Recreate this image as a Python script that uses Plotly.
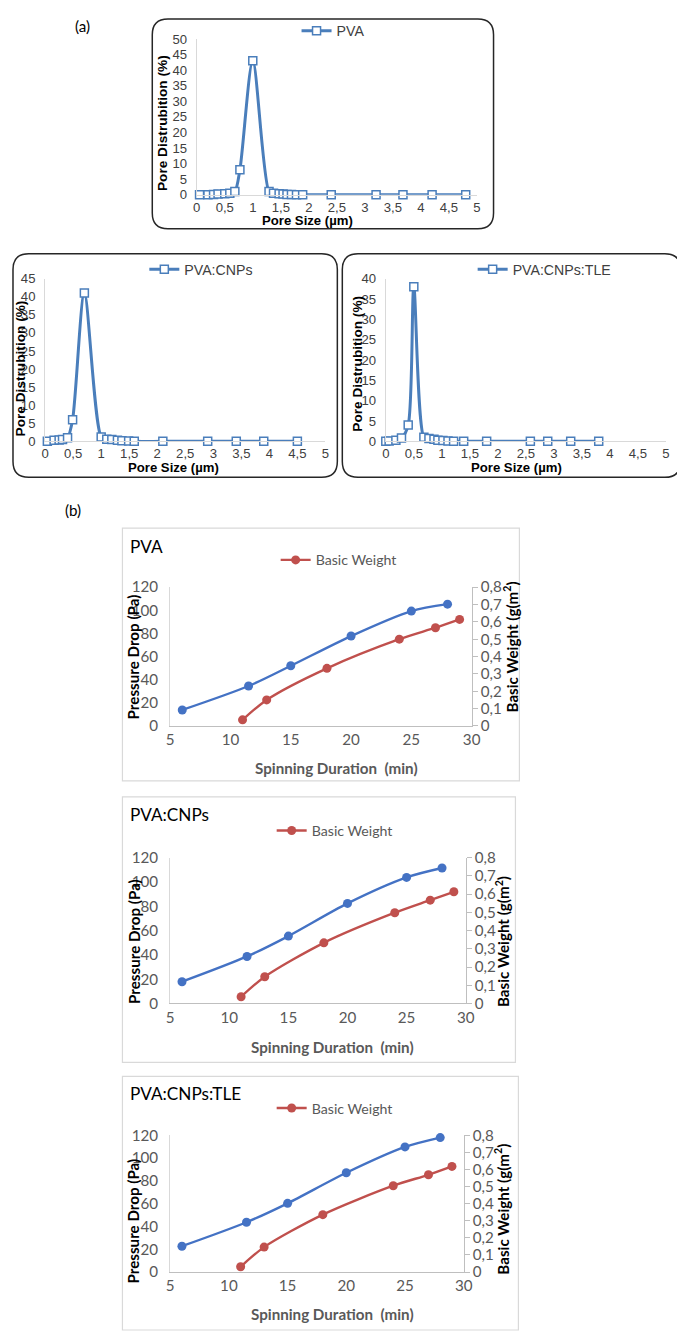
import plotly.graph_objects as go

# Page placement of the figure in the photographed window (measured): img = O + S * figure_px
OX, OY = 11.0, 17.0
SX, SY = 0.986, 0.988
W, H = 684, 1332
def px(x): return ((x - OX) / SX) / W
def py(y): return 1 - ((y - OY) / SY) / H
def fs(s): return s / SY

# ---------------- (a) pore size distribution data ----------------
pva_size = [0.05, 0.2, 0.3, 0.38, 0.5, 0.59, 0.68, 0.77, 1.0, 1.29, 1.37, 1.47, 1.54, 1.61, 1.69, 1.78, 1.89, 2.4, 3.2, 3.68, 4.2, 4.8]
pva_dist = [0, 0, 0.1, 0.2, 0.3, 0.5, 1, 8, 43, 1, 0.5, 0.3, 0.2, 0.1, 0.1, 0, 0, 0, 0, 0, 0, 0]

cnp_size = [0.04, 0.16, 0.25, 0.31, 0.4, 0.49, 0.7, 1.0, 1.1, 1.19, 1.29, 1.37, 1.49, 1.59, 2.1, 2.9, 3.41, 3.9, 4.5]
cnp_dist = [0, 0.3, 0.4, 0.5, 1, 6, 41, 1.2, 0.6, 0.5, 0.3, 0.2, 0.1, 0, 0, 0, 0, 0, 0]

tle_size = [0.0, 0.06, 0.18, 0.28, 0.4, 0.5, 0.68, 0.77, 0.86, 0.93, 1.02, 1.11, 1.21, 1.39, 1.8, 2.58, 2.89, 3.3, 3.8]
tle_dist = [0, 0.1, 0.3, 0.8, 4, 38, 1, 0.7, 0.5, 0.3, 0.2, 0.1, 0, 0, 0, 0, 0, 0, 0]

pore_ticks = [0, 0.5, 1, 1.5, 2, 2.5, 3, 3.5, 4, 4.5, 5]

# ---------------- (b) pressure drop / basic weight data ----------------
spin_pd = [6, 11.5, 15, 20, 25, 28]
pd_pva = [13.8, 34.5, 52, 77.7, 99.3, 105.3]
pd_cnp = [17.9, 38.7, 55.5, 82.4, 103.8, 111.5]
pd_tle = [22.7, 43.7, 60.3, 87.1, 109.8, 118]

spin_bw = [11, 13, 18, 24, 27, 29]
bw_pva = [0.035, 0.15, 0.332, 0.5, 0.566, 0.614]
bw_cnp = [0.037, 0.147, 0.333, 0.498, 0.567, 0.613]
bw_tle = [0.031, 0.146, 0.336, 0.505, 0.569, 0.618]

BLUE_A = "#4A7EBB"
BLUE_B = "#4472C4"
RED_B = "#C0504D"
FA = "Liberation Sans, Arial, sans-serif"
FB = "Lato, Carlito, sans-serif"

fig = go.Figure()

# ---------- (a) panels ----------
a_panels = [
    ("PVA", pva_size, pva_dist, "", (196.7, 478.3), (38, 194), 50, 5, (297, 30), "legend"),
    ("PVA:CNPs", cnp_size, cnp_dist, "2", (44.3, 326), (278, 441), 45, 5, (144, 269), "legend2"),
    ("PVA:CNPs:TLE", tle_size, tle_dist, "3", (386.7, 668.3), (278, 441), 40, 5, (474, 269), "legend3"),
]
for name, xs, ys, suf, (x0, x1), (y0, y1), ymax, dt, (lx, ly), leg in a_panels:
    fig.add_trace(go.Scatter(
        x=xs, y=ys, name=name, mode="lines+markers", showlegend=True,
        line=dict(color=BLUE_A, width=3, shape="spline", smoothing=0.8),
        marker=dict(symbol="square", size=8, color="white", line=dict(color=BLUE_A, width=1.5)),
        xaxis="x" + suf, yaxis="y" + suf, legend=leg, cliponaxis=False,
    ))
    fig.layout["xaxis" + suf] = dict(
        domain=[px(x0), px(x1)], range=[0, 5], tickvals=pore_ticks, anchor="y" + suf,
        showgrid=False, zeroline=False, showline=True, linecolor="#D9D9D9", linewidth=1,
        ticks="", tickfont=dict(family=FA, size=fs(13), color="#404040"),
    )
    fig.layout["yaxis" + suf] = dict(
        domain=[py(y1), py(y0)], range=[0, ymax], dtick=dt, anchor="x" + suf,
        showgrid=False, zeroline=False, showline=True, linecolor="#D9D9D9", linewidth=1,
        ticks="", ticklabelstandoff=6, tickfont=dict(family=FA, size=fs(13), color="#404040"),
    )
    fig.layout[leg] = dict(
        x=px(lx), y=py(ly), xanchor="left", yanchor="middle", bgcolor="rgba(0,0,0,0)",
        font=dict(family=FA, size=fs(14), color="#404040"), itemwidth=30,
    )

# ---------- (b) panels ----------
b_panels = [
    ("PVA", pd_pva, bw_pva, "4", "4", "5", (170, 473), (587, 726), "legend4", (276, 560)),
    ("PVA:CNPs", pd_cnp, bw_cnp, "5", "6", "7", (170, 467), (858, 1004), "legend5", (272, 831)),
    ("PVA:CNPs:TLE", pd_tle, bw_tle, "6", "8", "9", (170, 465), (1136, 1273), "legend6", (272, 1109)),
]
for name, pdv, bwv, xs, yl, yr, (x0, x1), (y0, y1), leg, (lx, ly) in b_panels:
    fig.add_trace(go.Scatter(
        x=spin_pd, y=pdv, name="Pressure Drop", mode="lines+markers", showlegend=False,
        line=dict(color=BLUE_B, width=2.4, shape="spline", smoothing=0.8),
        marker=dict(symbol="circle", size=9, color=BLUE_B),
        xaxis="x" + xs, yaxis="y" + yl, legend=leg, cliponaxis=False,
    ))
    fig.add_trace(go.Scatter(
        x=spin_bw, y=bwv, name="Basic Weight", mode="lines+markers", showlegend=True,
        line=dict(color=RED_B, width=2.4, shape="spline", smoothing=0.8),
        marker=dict(symbol="circle", size=9, color=RED_B),
        xaxis="x" + xs, yaxis="y" + yr, legend=leg, cliponaxis=False,
    ))
    fig.layout["xaxis" + xs] = dict(
        domain=[px(x0), px(x1)], range=[5, 30], dtick=5, anchor="y" + yl,
        showgrid=False, zeroline=False, showline=True, linecolor="#BFBFBF", linewidth=1,
        ticks="", tickfont=dict(family=FB, size=fs(15), color="#595959"),
    )
    fig.layout["yaxis" + yl] = dict(
        domain=[py(y1), py(y0)], range=[0, 120], dtick=20, anchor="x" + xs,
        showgrid=False, zeroline=False, showline=True, linecolor="#D9D9D9", linewidth=1,
        ticks="", ticklabelstandoff=8, tickfont=dict(family=FB, size=fs(15), color="#595959"),
    )
    fig.layout["yaxis" + yr] = dict(
        range=[0, 0.8], dtick=0.1, anchor="x" + xs, overlaying="y" + yl, side="right",
        showgrid=False, zeroline=False, showline=True, linecolor="#BFBFBF", linewidth=1,
        ticks="outside", ticklen=5, tickcolor="#BFBFBF",
        tickfont=dict(family=FB, size=fs(15), color="#595959"),
    )
    fig.layout[leg] = dict(
        x=px(lx), y=py(ly), xanchor="left", yanchor="middle", bgcolor="rgba(0,0,0,0)",
        font=dict(family=FB, size=fs(14), color="#595959"), itemwidth=30,
    )

# ---------- boxes ----------
def rounded(x0, y0, x1, y1, r):
    rx, ry = r / W, r / H
    X0, X1, Y0, Y1 = px(x0), px(x1), py(y0), py(y1)
    return (f"M {X0+rx},{Y0} L {X1-rx},{Y0} Q {X1},{Y0} {X1},{Y0-ry} "
            f"L {X1},{Y1+ry} Q {X1},{Y1} {X1-rx},{Y1} L {X0+rx},{Y1} "
            f"Q {X0},{Y1} {X0},{Y1+ry} L {X0},{Y0-ry} Q {X0},{Y0} {X0+rx},{Y0} Z")

shapes = []
for (x0, y0, x1, y1) in [(152, 18, 495, 228), (12, 253, 338, 477), (343, 253, 683, 477)]:
    shapes.append(dict(type="path", xref="paper", yref="paper", path=rounded(x0, y0, x1, y1, 16),
                       line=dict(color="#262626", width=1.5), layer="below"))
for (x0, y0, x1, y1) in [(122, 528, 521, 781), (122, 797, 517, 1063), (122, 1077, 520, 1331)]:
    shapes.append(dict(type="rect", xref="paper", yref="paper", x0=px(x0), x1=px(x1), y0=py(y1), y1=py(y0),
                       line=dict(color="#D9D9D9", width=1.2), layer="below"))

# ---------- text annotations ----------
ann = []
def text(x, y, t, size, family, color="black", bold=False, angle=0, xanchor="center"):
    ann.append(dict(x=px(x), y=py(y), xref="paper", yref="paper", text=(f"<b>{t}</b>" if bold else t),
                    showarrow=False, textangle=angle, xanchor=xanchor, yanchor="middle",
                    font=dict(size=fs(size), family=family, color=color)))

text(82, 25, "(a)", 15, FB)
text(72, 510, "(b)", 15, FB)

# (a) axis titles
text(308, 220, "Pore Size (µm)", 13, FA, bold=True)
text(163, 122, "Pore Distrubition (%)", 13.5, FA, bold=True, angle=-90)
text(173, 467, "Pore Size (µm)", 13, FA, bold=True)
text(20, 368, "Pore Distrubition (%)", 13.5, FA, bold=True, angle=-90)
text(518, 467, "Pore Size (µm)", 13, FA, bold=True)
text(358, 363, "Pore Distrubition (%)", 13.5, FA, bold=True, angle=-90)

# (b) titles and axis titles
for title, ty, xt, lt, rt in [
    ("PVA", 546, (337, 768), (133, 657), (512, 647)),
    ("PVA:CNPs", 815, (333, 1048), (133, 942), (504, 942)),
    ("PVA:CNPs:TLE", 1094, (333, 1315), (133, 1222), (503, 1210)),
]:
    text(128, ty, title, 17, FB, color="black", xanchor="left")
    text(xt[0], xt[1], "Spinning Duration  (min)", 15, FB, color="#595959", bold=True)
    text(lt[0], lt[1], "Pressure Drop (Pa)", 15, FB, color="black", bold=True, angle=-90)
    text(rt[0], rt[1], "Basic Weight (g(m<sup>2</sup>)", 15, FB, color="black", bold=True, angle=-90)

fig.update_layout(
    width=W, height=H, margin=dict(l=0, r=0, t=0, b=0),
    paper_bgcolor="white", plot_bgcolor="rgba(0,0,0,0)", showlegend=True,
    separators=", ", shapes=shapes, annotations=ann,
)

fig.write_html("out.html")
